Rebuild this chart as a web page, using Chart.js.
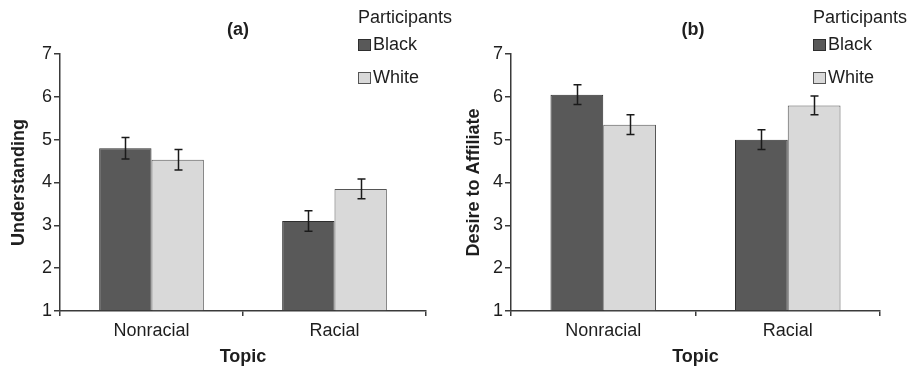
<!DOCTYPE html>
<html>
<head>
<meta charset="utf-8">
<script src="https://cdn.jsdelivr.net/npm/chart.js@4/dist/chart.umd.min.js"></script>
<style>
  html, body { margin: 0; padding: 0; background: #ffffff; }
  #wrap { position: relative; width: 909px; height: 371px; overflow: hidden; }
  .panel { position: absolute; top: 0; }
</style>
</head>
<body>
<div id="wrap">
  <div class="panel" style="left:0px;"><canvas id="chartA" width="455" height="371"></canvas></div>
  <div class="panel" style="left:455px;"><canvas id="chartB" width="454" height="371"></canvas></div>
</div>
<script>
// ---- data ----
const categories = ['Nonracial', 'Racial'];
const seriesLabels = ['Black', 'White'];
const legendTitle = 'Participants';
const xAxisTitle = 'Topic';

const panelTitles = ['(a)', '(b)'];
const yAxisTitles = ['Understanding', 'Desire to Affiliate'];

const understandingBlack = [4.80, 3.10];
const understandingWhite = [4.53, 3.85];
const understandingBlackErr = [0.25, 0.24];
const understandingWhiteErr = [0.24, 0.23];

const affiliateBlack = [6.05, 5.00];
const affiliateWhite = [5.35, 5.80];
const affiliateBlackErr = [0.23, 0.23];
const affiliateWhiteErr = [0.23, 0.22];

const yTickMin = 1;
const yTickMax = 7;
const yTickStep = 1;

// ---- styling ----
const FONT = "'Liberation Sans', Arial, Helvetica, sans-serif";
const TEXT = '#1e1e1e';
const AXIS = '#3a3a3a';
const fills = ['#595959', '#d9d9d9'];
const borders = ['#2e2e2e', '#555555'];

const errorBarPlugin = {
  id: 'errorBars',
  afterDatasetsDraw(chart) {
    const ctx = chart.ctx;
    const yScale = chart.scales.y;
    ctx.save();
    ctx.strokeStyle = '#1a1a1a';
    ctx.lineWidth = 1.5;
    chart.data.datasets.forEach((ds, i) => {
      const meta = chart.getDatasetMeta(i);
      meta.data.forEach((bar, j) => {
        const v = ds.data[j];
        const e = ds.errors[j];
        const x = Math.round(bar.x) + 0.5;
        const yT = yScale.getPixelForValue(v + e);
        const yB = yScale.getPixelForValue(v - e);
        const cap = 4;
        ctx.beginPath();
        ctx.moveTo(x, yT); ctx.lineTo(x, yB);
        ctx.moveTo(x - cap, yT); ctx.lineTo(x + cap, yT);
        ctx.moveTo(x - cap, yB); ctx.lineTo(x + cap, yB);
        ctx.stroke();
      });
    });
    ctx.restore();
  }
};

const decorPlugin = {
  id: 'decor',
  afterDraw(chart, args, opts) {
    const ctx = chart.ctx;
    ctx.save();
    // panel title
    ctx.fillStyle = TEXT;
    ctx.font = "bold 18px " + FONT;
    ctx.textAlign = 'center';
    ctx.textBaseline = 'middle';
    ctx.fillText(opts.title, opts.titleX, 30);
    // legend
    ctx.font = "18px " + FONT;
    ctx.textAlign = 'left';
    ctx.fillText(legendTitle, opts.legendX, 18);
    const rows = [45, 78];
    chart.data.datasets.forEach((ds, i) => {
      const yc = rows[i];
      ctx.fillStyle = ds.backgroundColor;
      ctx.fillRect(opts.legendX + 0.5, yc - 5.5, 12, 11);
      ctx.strokeStyle = ds.borderColor;
      ctx.lineWidth = 1;
      ctx.strokeRect(opts.legendX + 0.5, yc - 5.5, 12, 11);
      ctx.fillStyle = TEXT;
      ctx.fillText(ds.label, opts.legendX + 15, yc);
    });
    ctx.restore();
  }
};

function makeChart(id, blackVals, whiteVals, blackErr, whiteErr, title, yTitle, axisW) {
  return new Chart(document.getElementById(id), {
    type: 'bar',
    data: {
      labels: categories,
      datasets: [
        { label: seriesLabels[0], data: blackVals, errors: blackErr,
          backgroundColor: fills[0], borderColor: borders[0], borderWidth: 1, base: yTickMin },
        { label: seriesLabels[1], data: whiteVals, errors: whiteErr,
          backgroundColor: fills[1], borderColor: borders[1], borderWidth: 1, base: yTickMin }
      ]
    },
    options: {
      responsive: false,
      animation: false,
      events: [],
      layout: { padding: { top: 54, right: 29, left: 0, bottom: 0 } },
      datasets: { bar: { categoryPercentage: 0.572, barPercentage: 1.0 } },
      plugins: {
        legend: { display: false },
        title: { display: false },
        tooltip: { enabled: false },
        decor: { title: title, titleX: 238, legendX: 358 }
      },
      scales: {
        x: {
          offset: true,
          grid: { display: true, offset: true, drawOnChartArea: false, tickLength: 5,
                  color: AXIS, lineWidth: 1.5 },
          border: { display: true, color: AXIS, width: 1.5 },
          ticks: { color: TEXT, font: { family: FONT, size: 18 }, padding: 4, maxRotation: 0 },
          title: { display: true, text: xAxisTitle, color: TEXT,
                   font: { family: FONT, size: 18, weight: 'bold' }, padding: { top: 0, bottom: 3 } },
          afterFit(axis) { axis.height = 60; }
        },
        y: {
          min: yTickMin, max: yTickMax,
          grid: { display: true, drawOnChartArea: false, tickLength: 6, color: AXIS, lineWidth: 1.5 },
          border: { display: true, color: AXIS, width: 1.5 },
          ticks: { stepSize: yTickStep, color: TEXT, font: { family: FONT, size: 18 }, padding: 2 },
          title: { display: true, text: yTitle, color: TEXT,
                   font: { family: FONT, size: 18, weight: 'bold' }, padding: { top: 8, bottom: 0 } },
          afterFit(axis) { axis.width = axisW; }
        }
      }
    },
    plugins: [errorBarPlugin, decorPlugin]
  });
}

makeChart('chartA', understandingBlack, understandingWhite, understandingBlackErr, understandingWhiteErr,
          panelTitles[0], yAxisTitles[0], 60);
makeChart('chartB', affiliateBlack, affiliateWhite, affiliateBlackErr, affiliateWhiteErr,
          panelTitles[1], yAxisTitles[1], 56);
</script>
</body>
</html>
